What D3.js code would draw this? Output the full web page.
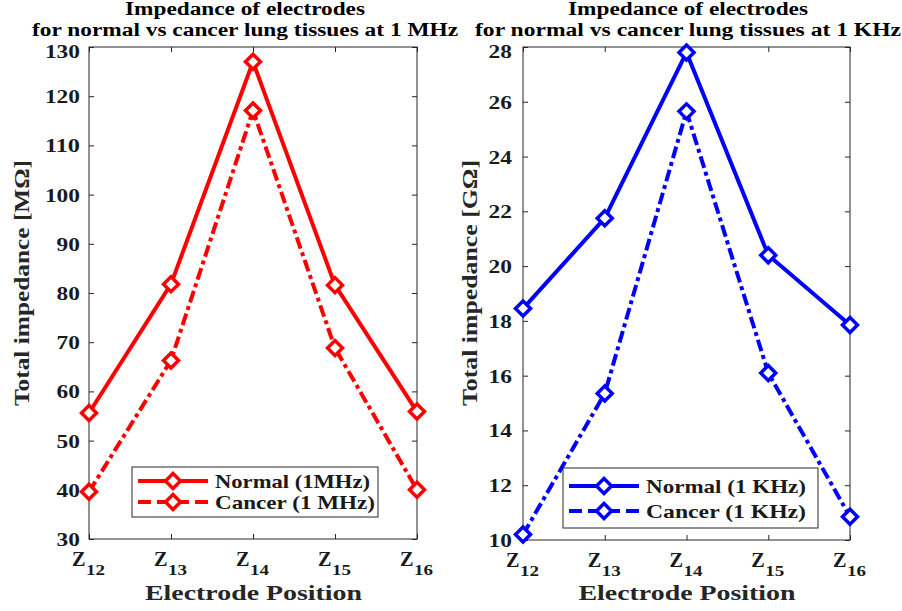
<!DOCTYPE html>
<html>
<head>
<meta charset="utf-8">
<script src="https://cdn.jsdelivr.net/npm/d3@7"></script>
<style>
  body { margin: 0; background: #fff; }
  svg { display: block; }
  text { font-family: "Liberation Serif", "Times New Roman", serif; font-weight: bold; }
</style>
</head>
<body>
<div id="chart"></div>
<script>
// data
const electrodes = ["12", "13", "14", "15", "16"];

const mhzNormal = [55.6, 81.8, 127.0, 81.6, 55.9];
const mhzCancer = [39.6, 66.3, 117.1, 68.8, 40.0];
const mhzTicks = [30, 40, 50, 60, 70, 80, 90, 100, 110, 120, 130];

const khzNormal = [18.45, 21.75, 27.8, 20.4, 17.85];
const khzCancer = [10.2, 15.35, 25.65, 16.1, 10.85];
const khzTicks = [10, 12, 14, 16, 18, 20, 22, 24, 26, 28];

const width = 902, height = 611;
const svg = d3.select("#chart").append("svg")
    .attr("width", width)
    .attr("height", height);

const axisColor = "#262626";

// the reference text is a little stretched sideways, so fit lengths
function fit(sel, len) {
    return sel.attr("textLength", len).attr("lengthAdjust", "spacingAndGlyphs");
}

function drawPanel({ left, right, top, bottom, domain, ticks, normal, cancer, color,
    title2, yLabel, yLabelX, legendNames, legendBox, legendRows, titleX, tickLabelX }) {

    const xScale = d3.scalePoint()
        .domain(electrodes)
        .range([left, right]);

    const yScale = d3.scaleLinear()
        .domain(domain)
        .range([bottom, top]);

    const g = svg.append("g");

    // frame
    g.append("rect")
        .attr("x", left).attr("y", top)
        .attr("width", right - left).attr("height", bottom - top)
        .attr("fill", "none")
        .attr("stroke", axisColor)
        .attr("stroke-width", 1);

    // axes (ticks inward)
    const yAxis = g.append("g")
        .attr("transform", `translate(${left},0)`)
        .call(d3.axisLeft(yScale).tickValues(ticks).tickSizeInner(-5).tickSizeOuter(0).tickPadding(9));
    yAxis.select(".domain").remove();
    yAxis.selectAll("line").attr("stroke", axisColor);
    yAxis.selectAll("text")
        .attr("fill", "#1a1a1a")
        .style("font-size", "18px")
        .attr("x", tickLabelX - left)
        .attr("dy", "0.36em")
        .each(function () {
            fit(d3.select(this), this.textContent.length * 11.7);
        });
    yAxis.select(".tick:last-of-type text").attr("dy", "0.6em");

    const yAxisR = g.append("g")
        .attr("transform", `translate(${right},0)`)
        .call(d3.axisRight(yScale).tickValues(ticks).tickSizeInner(-5).tickSizeOuter(0).tickFormat(""));
    yAxisR.select(".domain").remove();
    yAxisR.selectAll("line").attr("stroke", axisColor);

    const xAxis = g.append("g")
        .attr("transform", `translate(0,${bottom})`)
        .call(d3.axisBottom(xScale).tickSizeInner(-5).tickSizeOuter(0).tickFormat(""));
    xAxis.select(".domain").remove();
    xAxis.selectAll("line").attr("stroke", axisColor);

    const xAxisT = g.append("g")
        .attr("transform", `translate(0,${top})`)
        .call(d3.axisTop(xScale).tickSizeInner(-5).tickSizeOuter(0).tickFormat(""));
    xAxisT.select(".domain").remove();
    xAxisT.selectAll("line").attr("stroke", axisColor);

    // x tick labels: Z with subscript
    const zl = g.selectAll(".zlabel")
        .data(electrodes)
        .enter().append("g")
        .attr("class", "zlabel")
        .attr("transform", d => `translate(${xScale(d)},0)`);
    fit(zl.append("text")
        .attr("x", -17)
        .attr("y", bottom + 27)
        .attr("fill", "#1a1a1a")
        .style("font-size", "21px")
        .text("Z"), 13.5);
    fit(zl.append("text")
        .attr("x", -3)
        .attr("y", bottom + 36)
        .attr("fill", "#1a1a1a")
        .style("font-size", "15px")
        .text(d => d), 19);

    // x axis label
    fit(g.append("text")
        .attr("x", (left + right) / 2 - 108)
        .attr("y", 600)
        .attr("fill", "#262626")
        .style("font-size", "21px")
        .text("Electrode Position"), 217);

    // y axis label
    fit(g.append("text")
        .attr("transform", `translate(${yLabelX},${406}) rotate(-90)`)
        .attr("fill", "#262626")
        .style("font-size", "21px")
        .text(yLabel), 246);

    // title
    fit(g.append("text")
        .attr("x", titleX - 120).attr("y", 15)
        .attr("fill", "#000")
        .style("font-size", "18px")
        .text("Impedance of electrodes"), 240);
    fit(g.append("text")
        .attr("x", titleX - 213).attr("y", 36)
        .attr("fill", "#000")
        .style("font-size", "18px")
        .text(title2), 426);

    // lines
    const line = d3.line()
        .x((d, i) => xScale(electrodes[i]))
        .y(d => yScale(d));

    const series = [
        { values: normal, dash: null, legendDash: null },
        { values: cancer, dash: "12,4,4,4", legendDash: "13,6" }
    ];

    const diamond = (cx, cy, r) => `M${cx},${cy - r}L${cx + r},${cy}L${cx},${cy + r}L${cx - r},${cy}Z`;

    series.forEach(s => {
        g.append("path")
            .datum(s.values)
            .attr("d", line)
            .attr("fill", "none")
            .attr("stroke", color)
            .attr("stroke-width", 4)
            .attr("stroke-dasharray", s.dash);

        g.selectAll(null)
            .data(s.values)
            .enter().append("path")
            .attr("d", (d, i) => diamond(xScale(electrodes[i]), yScale(d), 7.5))
            .attr("fill", "#fff")
            .attr("stroke", color)
            .attr("stroke-width", 3.5);
    });

    // legend
    const lg = g.append("g");
    lg.append("rect")
        .attr("x", legendBox.x).attr("y", legendBox.y)
        .attr("width", legendBox.w).attr("height", legendBox.h)
        .attr("fill", "#fff")
        .attr("stroke", axisColor)
        .attr("stroke-width", 1);

    series.forEach((s, i) => {
        const yy = legendRows[i];
        const x0 = legendBox.x + 6, x1 = x0 + 70;
        lg.append("line")
            .attr("x1", x0).attr("x2", x1)
            .attr("y1", yy).attr("y2", yy)
            .attr("stroke", color)
            .attr("stroke-width", 4)
            .attr("stroke-dasharray", s.legendDash);
        lg.append("path")
            .attr("d", diamond((x0 + x1) / 2, yy, 7.5))
            .attr("fill", "#fff")
            .attr("stroke", color)
            .attr("stroke-width", 3.5);
        fit(lg.append("text")
            .attr("x", x1 + 7)
            .attr("y", yy + 6.5)
            .attr("fill", "#1a1a1a")
            .style("font-size", "19px")
            .text(legendNames[i]), legendNames[i].length > 13 ? 160 : 155);
    });
}

drawPanel({
    left: 89, right: 417, top: 47, bottom: 539,
    domain: [30, 130], ticks: mhzTicks,
    normal: mhzNormal, cancer: mhzCancer, color: "#ff0000",
    title2: "for normal vs cancer lung tissues at 1 MHz",
    yLabel: "Total impedance [M\u03A9]", yLabelX: 29,
    legendNames: ["Normal (1MHz)", "Cancer (1 MHz)"],
    legendBox: { x: 132, y: 467, w: 246, h: 50 },
    legendRows: [481, 502],
    titleX: 245, tickLabelX: 80
});

drawPanel({
    left: 523, right: 850, top: 47, bottom: 540,
    domain: [10, 28], ticks: khzTicks,
    normal: khzNormal, cancer: khzCancer, color: "#0000ff",
    title2: "for normal vs cancer lung tissues at 1 KHz",
    yLabel: "Total impedance [G\u03A9]", yLabelX: 477,
    legendNames: ["Normal (1 KHz)", "Cancer (1 KHz)"],
    legendBox: { x: 563, y: 468, w: 255, h: 60 },
    legendRows: [486, 511],
    titleX: 688, tickLabelX: 512
});
</script>
</body>
</html>
